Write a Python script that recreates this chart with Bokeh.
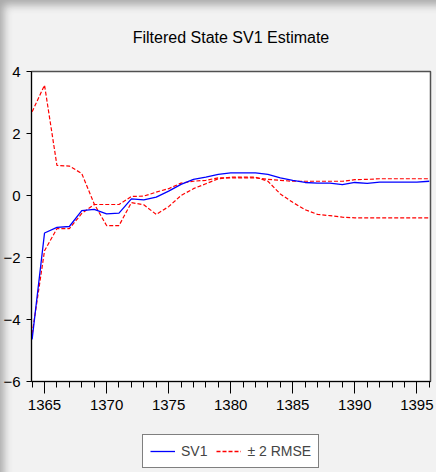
from bokeh.plotting import figure
from bokeh.layouts import column
from bokeh.models import Range1d, FixedTicker, Legend, LegendItem, ColumnDataSource
from bokeh.embed import file_html
from bokeh.resources import INLINE

years = list(range(1364, 1397))
sv1 = [-4.64, -1.21, -1.03, -1.00, -0.49, -0.45, -0.59, -0.57, -0.11, -0.14,
       -0.05, 0.14, 0.36, 0.52, 0.59, 0.68, 0.73, 0.73, 0.73, 0.68,
       0.57, 0.49, 0.42, 0.40, 0.40, 0.35, 0.42, 0.39, 0.43, 0.43,
       0.43, 0.43, 0.46]
band_a = [2.70, 3.56, 0.97, 0.95, 0.71, -0.27, -0.97, -0.97, -0.23, -0.30,
          -0.61, -0.36, 0.00, 0.22, 0.38, 0.54, 0.59, 0.59, 0.59, 0.46,
          0.05, -0.22, -0.46, -0.61, -0.65, -0.70, -0.72, -0.72, -0.72, -0.72,
          -0.72, -0.72, -0.72]
band_b = [-4.47, -1.78, -1.07, -1.07, -0.58, -0.29, -0.29, -0.29, -0.03, -0.02,
          0.11, 0.22, 0.40, 0.46, 0.49, 0.57, 0.57, 0.57, 0.57, 0.52,
          0.49, 0.46, 0.46, 0.46, 0.46, 0.46, 0.51, 0.52, 0.54, 0.54,
          0.54, 0.54, 0.54]
x_major = [1365, 1370, 1375, 1380, 1385, 1390, 1395]
y_major = [-6, -4, -2, 0, 2, 4]
title_text = "Filtered State SV1 Estimate"
label_sv1 = "SV1"
label_band = "± 2 RMSE"

FONT = "Liberation Sans"
BG = "#f2f2f2"
BLUE = "#0000ff"
RED = "#ff0000"

src = ColumnDataSource(dict(x=years, sv1=sv1, a=band_a, b=band_b))

p = figure(width=436, height=420, output_backend="svg", toolbar_location=None,
           x_range=Range1d(1363.95, 1396.1), y_range=Range1d(-6, 4),
           min_border_left=30, min_border_right=6, min_border_top=71,
           min_border_bottom=39, background_fill_color="white",
           border_fill_alpha=0)

p.title.text = title_text
p.title.align = "center"
p.title.text_font = FONT
p.title.text_font_size = "16px"
p.title.text_font_style = "normal"
p.title.text_color = "black"
p.title.standoff = 51

p.xgrid.visible = False
p.ygrid.visible = False
p.outline_line_color = "#505050"
p.outline_line_width = 1.5

xa = p.xaxis[0]
xa.ticker = FixedTicker(ticks=x_major, minor_ticks=years)
xa.major_tick_out = 12
xa.major_tick_in = 0
xa.minor_tick_out = 6
xa.minor_tick_in = 0
xa.axis_line_color = "black"
xa.major_tick_line_color = "black"
xa.minor_tick_line_color = "black"
xa.major_label_text_font = FONT
xa.major_label_text_font_size = "15px"
xa.major_label_text_color = "black"
xa.major_label_standoff = 6

ya = p.yaxis[0]
ya.ticker = FixedTicker(ticks=y_major)
ya.major_tick_out = 5
ya.major_tick_in = 0
ya.minor_tick_line_color = None
ya.axis_line_color = "black"
ya.major_tick_line_color = "black"
ya.major_label_text_font = FONT
ya.major_label_text_font_size = "15px"
ya.major_label_text_color = "black"
ya.major_label_standoff = 6

p.line("x", "a", source=src, line_color=RED, line_width=1.2, line_dash="4 2")
p.line("x", "b", source=src, line_color=RED, line_width=1.2, line_dash="4 2")
p.line("x", "sv1", source=src, line_color=BLUE, line_width=1.3)

# legend strip below the chart (its lines are kept outside its visible range)
lf = figure(width=436, height=52, output_backend="svg", toolbar_location=None,
            x_range=Range1d(1363.95, 1396.1), y_range=Range1d(50, 51),
            x_axis_location=None, y_axis_location=None,
            min_border_left=0, min_border_right=0, min_border_top=0,
            min_border_bottom=0, background_fill_alpha=0, border_fill_alpha=0,
            outline_line_color=None)
lf.xgrid.visible = False
lf.ygrid.visible = False
ls = lf.line("x", "sv1", source=src, line_color=BLUE, line_width=1.3)
lb = lf.line("x", "a", source=src, line_color=RED, line_width=1.3, line_dash="4 2")

legend = Legend(items=[LegendItem(label=label_sv1, renderers=[ls]),
                       LegendItem(label=label_band, renderers=[lb])],
                orientation="horizontal", location=(111, 4),
                label_text_font=FONT, label_text_font_size="14px",
                glyph_width=25, glyph_height=16, label_standoff=6, spacing=9,
                padding=7, margin=0, border_line_color="black", border_line_width=1,
                background_fill_color="white", background_fill_alpha=1,
                label_height=18)
lf.add_layout(legend, "center")

layout = column(p, lf, spacing=0,
                styles={"background-color": BG,
                        "box-shadow": "inset 9px 10px 9px -5px rgba(0,0,0,0.30)"})

open("out.html", "w").write(file_html(layout, INLINE))
